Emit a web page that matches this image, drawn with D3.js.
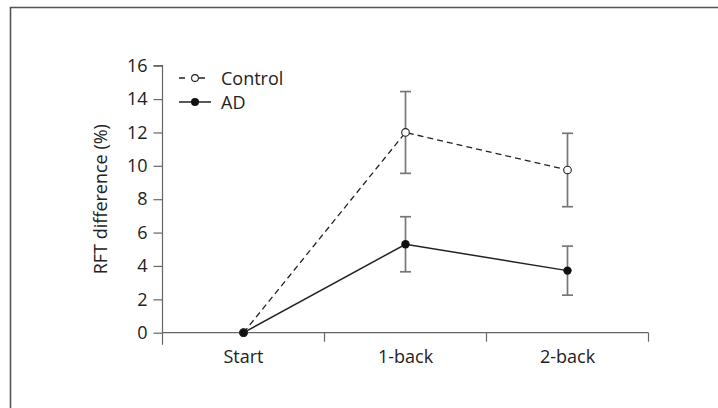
<!DOCTYPE html>
<html><head><meta charset="utf-8">
<script src="https://cdn.jsdelivr.net/npm/d3@7"></script>
<style>body{margin:0;background:#fff}svg{display:block}text{font-family:"Open Sans",sans-serif}</style>
</head><body>
<svg id="c" width="718" height="408"></svg>
<script>
const categories = ["Start", "1-back", "2-back"];
const controlMean = [0, 12.0, 9.75];
const controlErr  = [0, 2.45, 2.2];
const adMean = [0, 5.3, 3.72];
const adErr  = [0, 1.65, 1.47];
const yTicks = [0, 2, 4, 6, 8, 10, 12, 14, 16];

const FS = 18;
const svg = d3.select("#c");
// frame
svg.append("path").attr("d", "M10.5,408 V7.5 H718").attr("fill", "none").attr("stroke", "#555").attr("stroke-width", 1.6);

const x = d3.scaleBand().domain(categories).range([162.5, 648.5]);
const y = d3.scaleLinear().domain([0, 16]).range([332.7, 65.7]);
const axisColor = "#666";

// y axis
const ya = svg.append("g").attr("transform", "translate(162.5,0)")
  .call(d3.axisLeft(y).tickValues(yTicks).tickSize(9).tickPadding(6));
ya.select(".domain").attr("stroke", axisColor).attr("stroke-width", 1.2).attr("d", `M-9,${y(16)}H0V${y(0)+12}`);
ya.selectAll(".tick line").attr("stroke", axisColor).attr("stroke-width", 1.2);
ya.selectAll(".tick text").attr("font-size", FS).attr("fill", "#222").attr("font-family", "Open Sans");

// x axis
const xa = svg.append("g").attr("transform", `translate(0,${y(0)})`);
xa.append("line").attr("x1", 162.5).attr("x2", 648.5).attr("y1", 0).attr("y2", 0).attr("stroke", axisColor).attr("stroke-width", 1.2);
const bounds = categories.map(c => x(c)).concat([x.range()[1]]);
xa.selectAll("line.tk").data(bounds.slice(1)).join("line").attr("class", "tk")
  .attr("x1", d => d).attr("x2", d => d).attr("y1", 0).attr("y2", 9).attr("stroke", axisColor).attr("stroke-width", 1.2);
xa.selectAll("text").data(categories).join("text")
  .attr("x", d => x(d) + x.bandwidth() / 2).attr("y", 30.5).attr("text-anchor", "middle")
  .attr("font-size", FS).attr("fill", "#222").text(d => d);

// y label
svg.append("text").attr("transform", `translate(107,${(y(0)+y(16))/2}) rotate(-90)`)
  .attr("text-anchor", "middle").attr("font-size", FS).attr("fill", "#222").text("RFT difference (%)");

const cx = d => x(d) + x.bandwidth() / 2;

function errorBars(mean, err) {
  const g = svg.append("g").attr("stroke", "#777").attr("stroke-width", 1.7);
  categories.forEach((c, i) => {
    if (err[i] === 0) return;
    const X = cx(c);
    g.append("line").attr("x1", X).attr("x2", X).attr("y1", y(mean[i] + err[i])).attr("y2", y(mean[i] - err[i]));
    [mean[i] + err[i], mean[i] - err[i]].forEach(v =>
      g.append("line").attr("x1", X - 5.5).attr("x2", X + 5.5).attr("y1", y(v)).attr("y2", y(v)));
  });
}
errorBars(controlMean, controlErr);
errorBars(adMean, adErr);

const line = d3.line().x((d, i) => cx(categories[i])).y(d => y(d));
svg.append("path").datum(controlMean).attr("d", line).attr("fill", "none").attr("stroke", "#222").attr("stroke-width", 1.3).attr("stroke-dasharray", "6,4");
svg.append("path").datum(adMean).attr("d", line).attr("fill", "none").attr("stroke", "#222").attr("stroke-width", 1.5);

svg.selectAll("circle.ad").data(adMean).join("circle").attr("class", "ad")
  .attr("cx", (d, i) => cx(categories[i])).attr("cy", d => y(d)).attr("r", 4.2).attr("fill", "#111");
svg.selectAll("circle.ct").data(controlMean).join("circle").attr("class", "ct")
  .attr("cx", (d, i) => cx(categories[i])).attr("cy", d => y(d)).attr("r", 3.8)
  .attr("fill", (d, i) => i === 0 ? "#111" : "#fff").attr("stroke", "#222").attr("stroke-width", 1.1);

// legend
const lg = svg.append("g");
lg.append("line").attr("x1", 179).attr("x2", 211).attr("y1", 78).attr("y2", 78).attr("stroke", "#222").attr("stroke-width", 1.3).attr("stroke-dasharray", "6,14");
lg.append("circle").attr("cx", 195).attr("cy", 78).attr("r", 3.4).attr("fill", "#fff").attr("stroke", "#222").attr("stroke-width", 1.1);
lg.append("text").attr("x", 221).attr("y", 84.5).attr("font-size", FS).attr("fill", "#222").text("Control");
lg.append("line").attr("x1", 179).attr("x2", 211).attr("y1", 102).attr("y2", 102).attr("stroke", "#222").attr("stroke-width", 1.5);
lg.append("circle").attr("cx", 195).attr("cy", 102).attr("r", 4).attr("fill", "#111");
lg.append("text").attr("x", 221).attr("y", 108.5).attr("font-size", FS).attr("fill", "#222").text("AD");
</script>
</body></html>
